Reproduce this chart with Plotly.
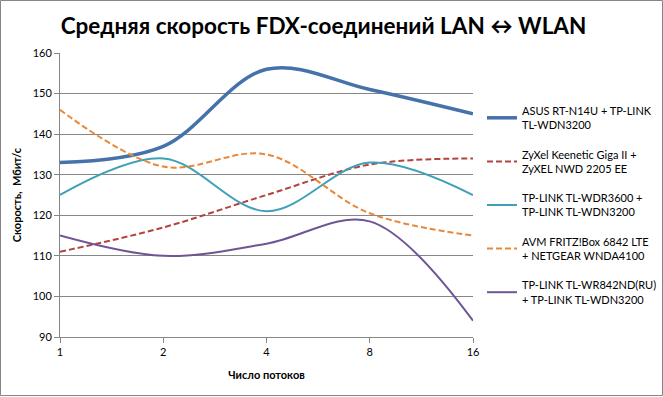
import plotly.graph_objects as go

categories = ["1", "2", "4", "8", "16"]
series_names = [
    "ASUS RT-N14U + TP-LINK<br>TL-WDN3200",
    "ZyXel Keenetic Giga II +<br>ZyXEL NWD 2205 EE",
    "TP-LINK TL-WDR3600 +<br>TP-LINK TL-WDN3200",
    "AVM FRITZ!Box 6842 LTE<br>+ NETGEAR WNDA4100",
    "TP-LINK TL-WR842ND(RU)<br>+ TP-LINK TL-WDN3200",
]
asus = [133, 137, 156, 151, 145]
zyxel = [111, 117, 125, 132.5, 134]
wdr3600 = [125, 134, 121, 133, 125]
avm = [146, 132, 135, 120.5, 115]
wr842 = [115, 110, 113, 118.5, 94]
y_ticks = [90, 100, 110, 120, 130, 140, 150, 160]

values = [asus, zyxel, wdr3600, avm, wr842]
colors = ["#4672aa", "#b2433f", "#3fa0b8", "#e8883a", "#6f5596"]
widths = [3.5, 2, 2, 2, 2]
dashes = ["solid", "6px,3px", "solid", "6px,3px", "solid"]

W, H = 663, 397
L, R, T, B = 60, 190, 53, 60
pw, ph = W - L - R, H - T - B

fig = go.Figure()
x_idx = list(range(len(categories)))
for i, (name, vals) in enumerate(zip(series_names, values)):
    fig.add_trace(go.Scatter(
        x=x_idx, y=vals, name=name, mode="lines",
        line=dict(color=colors[i], width=widths[i], dash=dashes[i],
                  shape="spline", smoothing=1.0),
        legendgroup=f"g{i}",
    ))

font_family = "Lato, 'Open Sans', sans-serif"
fig.update_layout(
    width=W, height=H,
    margin=dict(l=L, r=R, t=T, b=B, autoexpand=False),
    paper_bgcolor="white", plot_bgcolor="white",
    font=dict(family=font_family, size=11, color="#000000"),
    title=dict(text="<b>Средняя скорость FDX-соединений LAN ↔ WLAN</b>",
               x=(323.5) / W, xanchor="center", y=1 - 26 / H, yanchor="middle",
               font=dict(size=22.5, family=font_family, color="#000000")),
    showlegend=True,
    legend=dict(x=(482 - L) / pw, xanchor="left", y=(H - B - 97) / ph,
                yanchor="top", traceorder="grouped", tracegroupgap=12,
                font=dict(size=11, family=font_family), bgcolor="rgba(0,0,0,0)",
                itemwidth=30),
    xaxis=dict(
        range=[0, len(categories) - 1], tickmode="array", tickvals=x_idx,
        ticktext=categories, showgrid=False, zeroline=False,
        showline=True, linecolor="#868686", linewidth=1,
        ticks="outside", ticklen=5, tickcolor="#868686",
        tickfont=dict(size=11), automargin=False,
        title=dict(text="<b>Число потоков</b>", font=dict(size=11), standoff=14),
    ),
    yaxis=dict(
        range=[90, 160], tickmode="array", tickvals=y_ticks,
        ticktext=[str(v) for v in y_ticks],
        showgrid=True, gridcolor="#868686", gridwidth=1, zeroline=False,
        showline=True, linecolor="#868686", linewidth=1,
        ticks="outside", ticklen=5, tickcolor="#868686",
        tickfont=dict(size=11), automargin=False,
        title=dict(text="<b>Скорость,  Мбит/с</b>", font=dict(size=11), standoff=8),
    ),
)

fig.add_shape(type="rect", xref="paper", yref="paper",
              x0=-(L - 0.5) / pw, x1=(W - 0.5 - L) / pw,
              y0=-(B - 1.5) / ph, y1=(H - 0.5 - B) / ph,
              line=dict(color="#868686", width=1), fillcolor="rgba(0,0,0,0)",
              layer="below")

fig.write_html("out.html", config={"displayModeBar": False},
               post_script="document.body.style.margin='0';document.body.style.overflow='hidden';")
